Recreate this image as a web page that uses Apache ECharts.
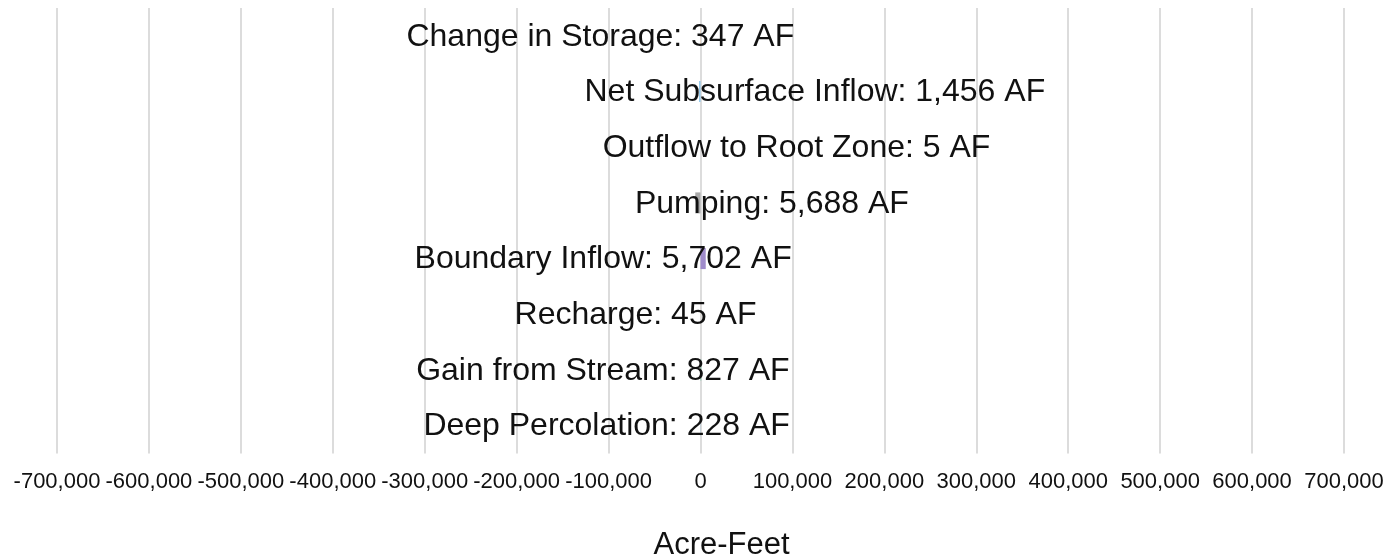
<!DOCTYPE html>
<html>
<head>
<meta charset="utf-8">
<title>Groundwater budget</title>
<script src="https://cdn.jsdelivr.net/npm/echarts@6/dist/echarts.min.js"></script>
<style>
  html, body { margin: 0; padding: 0; background: #fff; }
  #chart { width: 1390px; height: 558px; }
</style>
</head>
<body>
<div id="chart"></div>
<script>
// budget components, bottom row first (category axis runs upward)
var components = ['Deep Percolation', 'Gain from Stream', 'Recharge', 'Boundary Inflow',
                  'Pumping', 'Outflow to Root Zone', 'Net Subsurface Inflow', 'Change in Storage'];
// acre-feet, inflows positive, outflows negative
var acreFeet = [228, 827, 45, 5702, -5688, -5, -1456, -347];
var xTicks = [-700000, 700000, 100000]; // min, max, step

// styling only: bar colours and horizontal shift of each label from its bar
var barColors = ['#7fb3d5', '#76c1a0', '#f0b27a', '#9f8bcb', '#a9a9a9', '#c39bd3', '#85c1e9', '#f5cba7'];
var labelShift = [-94, -98, -65, -100, 74, 96, 115, -100];

var chart = echarts.init(document.getElementById('chart'));

var bars = [];
for (var i = 0; i < acreFeet.length; i++) {
    bars.push({
        value: acreFeet[i],
        itemStyle: {color: barColors[i]},
        label: {offset: [labelShift[i], 1]}
    });
}

function fmt(v) {
    return echarts.format.addCommas(v);
}

chart.setOption({
    animation: false,
    textStyle: {fontFamily: 'Liberation Sans, Arial, sans-serif'},
    grid: {left: 57, right: 46, top: 8, bottom: 104.5, containLabel: false, outerBoundsMode: 'none'},
    xAxis: {
        type: 'value',
        min: xTicks[0],
        max: xTicks[1],
        interval: xTicks[2],
        name: 'Acre-Feet',
        nameLocation: 'middle',
        nameGap: 76,
        nameTextStyle: {fontSize: 31, color: '#111', padding: [0, 0, 0, 42]},
        axisLine: {show: false},
        axisTick: {show: false},
        axisLabel: {
            fontSize: 22,
            color: '#111',
            margin: 17,
            formatter: function (v) { return fmt(v); }
        },
        splitLine: {lineStyle: {color: '#dcdcdc', width: 2}}
    },
    yAxis: {
        type: 'category',
        data: components,
        axisLine: {show: false},
        axisTick: {show: false},
        axisLabel: {show: false},
        splitLine: {show: false}
    },
    series: [{
        type: 'bar',
        barWidth: 21,
        data: bars,
        label: {
            show: true,
            position: 'inside',
            color: '#111',
            fontSize: 32,
            formatter: function (p) {
                return components[p.dataIndex] + ': ' + fmt(Math.abs(p.value)) + ' AF';
            }
        }
    }]
});
</script>
</body>
</html>
